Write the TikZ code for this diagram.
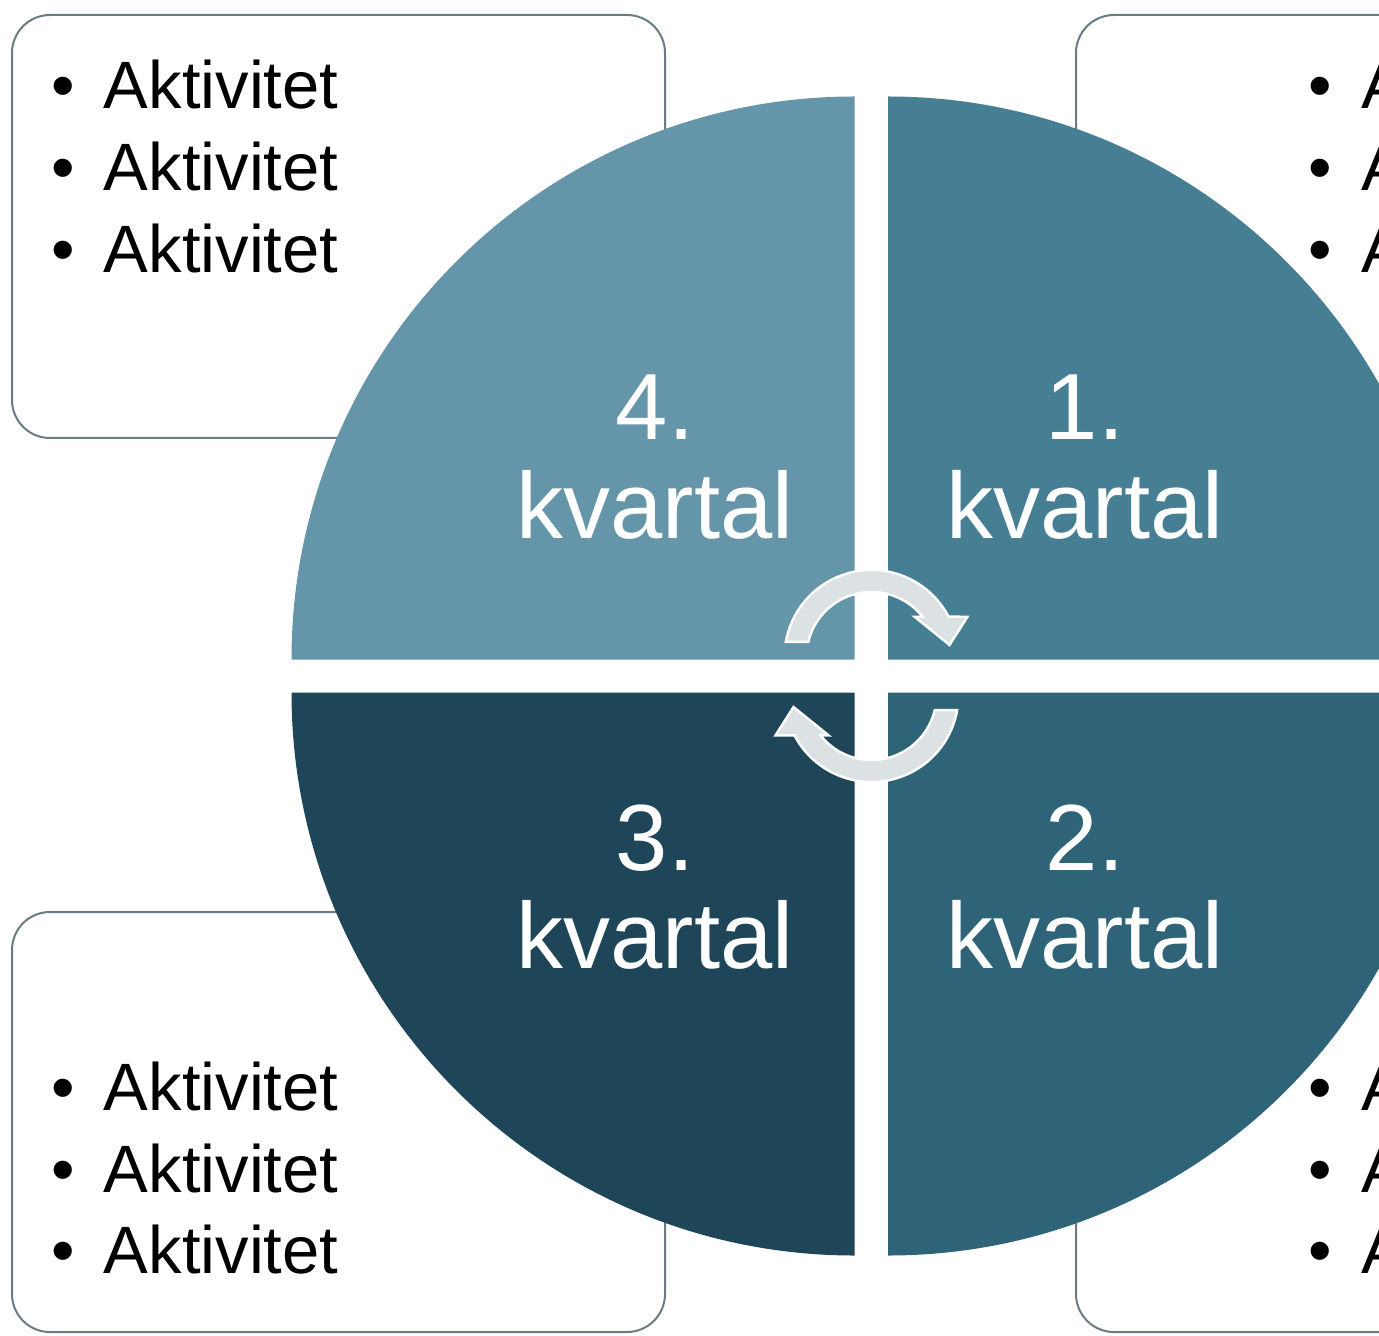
\documentclass[tikz,border=0pt]{standalone}
\usepackage{fontspec}
\setmainfont{Liberation Sans}
\definecolor{qfour}{HTML}{6595A8}
\definecolor{qone}{HTML}{467E93}
\definecolor{qtwo}{HTML}{2F6478}
\definecolor{qthree}{HTML}{1F4658}
\definecolor{boxline}{HTML}{6B7B82}
\definecolor{arrowfill}{HTML}{DCE1E4}
\begin{document}
\begin{tikzpicture}[x=0.5pt,y=0.5pt,
  listbox/.style={draw=boxline, line width=1pt, fill=white, rounded corners=19pt},
  bul/.style={inner sep=0pt, anchor=base, font=\fontsize{33.5}{40}\selectfont},
  itemtext/.style={inner sep=0pt, anchor=base west, font=\fontsize{33.5}{40}\selectfont},
  qlabel/.style={inner sep=0pt, anchor=base, text=white, font=\fontsize{47}{49}\selectfont},
  cyc/.style={fill=arrowfill, draw=white, line width=1.2pt, line join=miter}
]
\useasboundingbox (0,0) rectangle (1379,1335);
\clip (0,0) rectangle (1379,1335);
\fill[white] (0,0) rectangle (1379,1335);

% list boxes
\draw[listbox] (12,897) rectangle (665,1320);
\draw[listbox] (1076,897) rectangle (1440,1320);
\draw[listbox] (12,3) rectangle (665,423);
\draw[listbox] (1076,3) rectangle (1440,423);

% list texts
\foreach \i/\yy in {1/1226.5, 2/1144.5, 3/1062.5}{
  \node[bul] (tlb\i) at (63,\yy) {•};
  \node[itemtext] (tlt\i) at (103.5,\yy) {Aktivitet};
  \node[bul] (trb\i) at (1320,\yy) {•};
  \node[itemtext] (trt\i) at (1361,\yy) {Aktivitet};
}
\foreach \i/\yy in {1/224.5, 2/143, 3/61.5}{
  \node[bul] (blb\i) at (63,\yy) {•};
  \node[itemtext] (blt\i) at (103.5,\yy) {Aktivitet};
  \node[bul] (brb\i) at (1320,\yy) {•};
  \node[itemtext] (brt\i) at (1361,\yy) {Aktivitet};
}

% quarters
\fill[qfour] (854.5,675.5) -- ++(-563,0) arc[start angle=180,end angle=90,radius=563] -- cycle;
\fill[qone] (888,675.5) -- ++(0,563) arc[start angle=90,end angle=0,radius=563] -- cycle;
\fill[qtwo] (888,642.5) -- ++(563,0) arc[start angle=0,end angle=-90,radius=563] -- cycle;
\fill[qthree] (854.5,642.5) -- ++(0,-563) arc[start angle=270,end angle=180,radius=563] -- cycle;

% quarter labels
\node[qlabel] (q4a) at (655,895) {4.};
\node[qlabel] (q4b) at (655,796.5) {kvartal};
\node[qlabel] (q1a) at (1085,895) {1.};
\node[qlabel] (q1b) at (1085,796.5) {kvartal};
\node[qlabel] (q3a) at (655,465) {3.};
\node[qlabel] (q3b) at (655,367) {kvartal};
\node[qlabel] (q2a) at (1085,465) {2.};
\node[qlabel] (q2b) at (1085,367) {kvartal};

% cycle arrows
\begin{scope}[shift={(871.5,678)}]
\draw[cyc] (170:87) arc[start angle=170,end angle=27.6,radius=87] -- (96,40.3) -- (78,12) -- (43,40.3) -- (51,40.3) arc[start angle=38.3,end angle=166.6,radius=65] -- cycle;
\end{scope}
\begin{scope}[shift={(871.5,640)}, rotate=180]
\draw[cyc] (170:87) arc[start angle=170,end angle=27.6,radius=87] -- (96,40.3) -- (78,12) -- (43,40.3) -- (51,40.3) arc[start angle=38.3,end angle=166.6,radius=65] -- cycle;
\end{scope}
\end{tikzpicture}
\end{document}
